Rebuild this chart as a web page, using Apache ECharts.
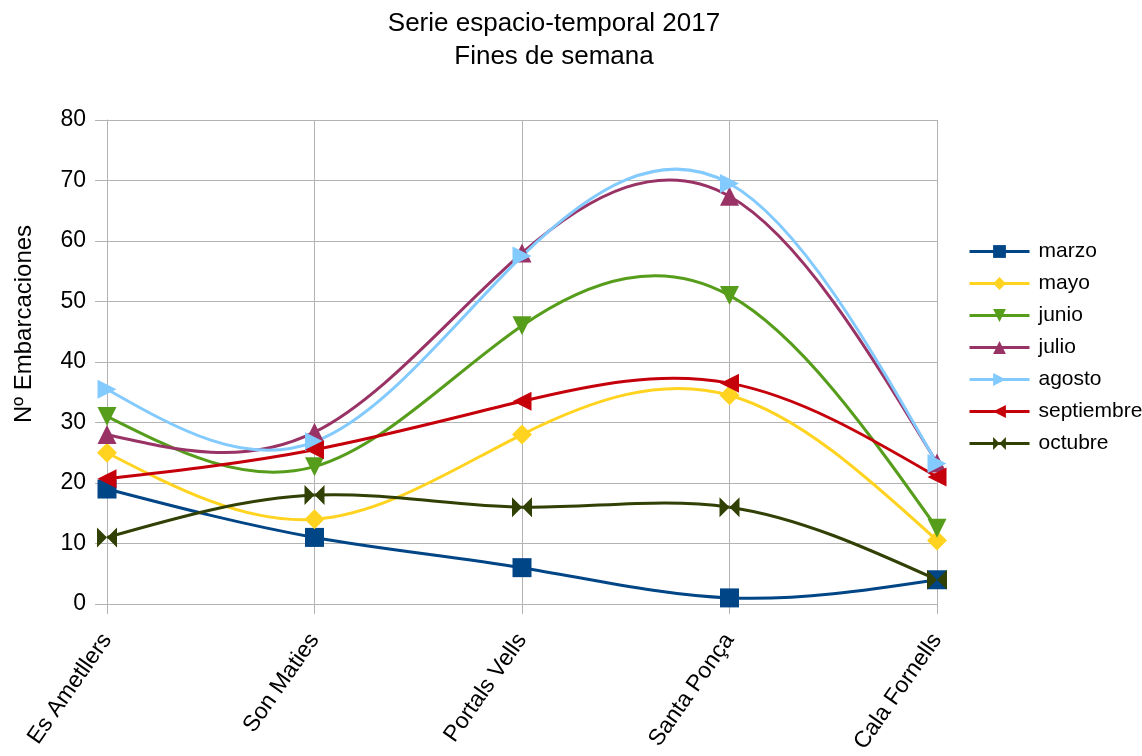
<!DOCTYPE html>
<html>
    <head>
        <meta charset="utf-8">
        <title>Serie espacio-temporal 2017</title>
        <script src="https://cdn.jsdelivr.net/npm/echarts@6/dist/echarts.min.js"></script>
        <style>
            html, body { margin: 0; padding: 0; background: #fff; }
            #chart1 { width: 1142px; height: 756px; }
        </style>
    </head>
    <body>
        <div id="chart1"></div>
        <script type="text/javascript">
            // datos
            var lugares = ['Es Ametllers', 'Son Maties', 'Portals Vells', 'Santa Ponça', 'Cala Fornells'];
            var marzo = [19, 11, 6, 1, 4];
            var mayo = [25, 14, 28, 34.5, 10.5];
            var junio = [31, 22.7, 46, 51, 12.5];
            var julio = [28, 28.4, 58, 67.4, 23.3];
            var agosto = [35.5, 26.8, 57.5, 69.5, 23.2];
            var septiembre = [20.7, 25.5, 33.5, 36.5, 21];
            var octubre = [11, 18, 16, 16, 4];
            var yTicks = [0, 10, 20, 30, 40, 50, 60, 70, 80];

            var bowtie = 'path://M0,0L10,10L0,20Z M20,0L10,10L20,20Z';

            // segundas derivadas de un spline cubico natural (paso 1)
            function splineM(y) {
                var n = y.length, M = new Array(n).fill(0);
                if (n < 3) return M;
                var a = [], b = [], c = [], d = [];
                for (var i = 1; i < n - 1; i++) {
                    a.push(1); b.push(4); c.push(1);
                    d.push(6 * (y[i - 1] - 2 * y[i] + y[i + 1]));
                }
                var m = d.length;
                for (var k = 1; k < m; k++) {
                    var w = a[k] / b[k - 1];
                    b[k] -= w * c[k - 1];
                    d[k] -= w * d[k - 1];
                }
                var x = new Array(m);
                x[m - 1] = d[m - 1] / b[m - 1];
                for (var k = m - 2; k >= 0; k--) x[k] = (d[k] - c[k] * x[k + 1]) / b[k];
                for (var k = 0; k < m; k++) M[k + 1] = x[k];
                return M;
            }

            function curva(nombre, datos, color) {
                var M = splineM(datos);
                return {
                    name: nombre + '-curva',
                    type: 'custom',
                    z: 1,
                    silent: true,
                    data: datos.map(function (v, i) { return [i, v]; }),
                    renderItem: function (params, api) {
                        var i = params.dataIndex;
                        if (i >= datos.length - 1) return null;
                        var y0 = datos[i], y1 = datos[i + 1];
                        var d0 = (y1 - y0) - (2 * M[i] + M[i + 1]) / 6;
                        var d1 = (y1 - y0) + (M[i] + 2 * M[i + 1]) / 6;
                        var p0 = api.coord([i, y0]);
                        var p1 = api.coord([i + 1, y1]);
                        var c0 = api.coord([i, y0 + d0 / 3]);
                        var c1 = api.coord([i + 1, y1 - d1 / 3]);
                        var dx = (p1[0] - p0[0]) / 3;
                        return {
                            type: 'bezierCurve',
                            shape: {
                                x1: p0[0], y1: p0[1],
                                x2: p1[0], y2: p1[1],
                                cpx1: p0[0] + dx, cpy1: c0[1],
                                cpx2: p1[0] - dx, cpy2: c1[1]
                            },
                            style: { stroke: color, lineWidth: 3, fill: null }
                        };
                    }
                };
            }

            function serie(nombre, datos, color, symbol, rot, size) {
                return {
                    name: nombre,
                    type: 'line',
                    z: 3,
                    data: datos,
                    symbol: symbol,
                    symbolRotate: rot,
                    symbolSize: size,
                    showAllSymbol: true,
                    itemStyle: { color: color },
                    lineStyle: { color: color, width: 3, opacity: 0 }
                };
            }

            var meses = [
                ['marzo', marzo, '#004586', 'rect', 0, 19],
                ['mayo', mayo, '#ffd320', 'diamond', 0, 20],
                ['junio', junio, '#579d1c', 'triangle', 180, 19],
                ['julio', julio, '#993366', 'triangle', 0, 19],
                ['agosto', agosto, '#83caff', 'triangle', -90, 19],
                ['septiembre', septiembre, '#c5000b', 'triangle', 90, 19],
                ['octubre', octubre, '#314004', bowtie, 0, 20]
            ];

            var series = [];
            meses.forEach(function (m) { series.push(curva(m[0], m[1], m[2])); });
            meses.forEach(function (m) { series.push(serie(m[0], m[1], m[2], m[3], m[4], m[5])); });

            var myChart = echarts.init(document.getElementById('chart1'));
            myChart.setOption({
                animation: false,
                textStyle: { fontFamily: 'Liberation Sans' },
                title: {
                    text: 'Serie espacio-temporal 2017\nFines de semana',
                    left: 549,
                    top: 2,
                    textAlign: 'center',
                    textStyle: {
                        fontFamily: 'Liberation Sans',
                        fontSize: 26,
                        fontWeight: 'normal',
                        color: '#000',
                        lineHeight: 33
                    }
                },
                legend: {
                    orient: 'vertical',
                    left: 963,
                    top: 236,
                    itemWidth: 60,
                    itemHeight: 16,
                    itemGap: 11,
                    lineStyle: { opacity: 1, width: 3 },
                    textStyle: { fontSize: 21, color: '#000', fontFamily: 'Liberation Sans', padding: [0, 0, 0, 4] },
                    data: meses.map(function (m) { return m[0]; })
                },
                grid: { left: 107, right: 205, top: 120, bottom: 149, containLabel: false },
                xAxis: {
                    type: 'category',
                    data: lugares,
                    boundaryGap: false,
                    axisLine: { show: true, lineStyle: { color: '#b3b3b3' } },
                    axisTick: { show: true, length: 10, alignWithLabel: true, lineStyle: { color: '#b3b3b3' } },
                    splitLine: { show: true, lineStyle: { color: '#b3b3b3' } },
                    axisLabel: { rotate: 55, fontSize: 23, color: '#000', margin: 32, interval: 0 }
                },
                yAxis: {
                    type: 'value',
                    min: yTicks[0],
                    max: yTicks[yTicks.length - 1],
                    interval: 10,
                    name: 'Nº Embarcaciones',
                    nameLocation: 'middle',
                    nameGap: 71,
                    nameTextStyle: { fontSize: 24, color: '#000', padding: [0, 0, 0, 76] },
                    axisLine: { show: true, lineStyle: { color: '#b3b3b3' } },
                    axisTick: { show: true, length: 12, lineStyle: { color: '#b3b3b3' } },
                    splitLine: { lineStyle: { color: '#b3b3b3' } },
                    axisLabel: { fontSize: 23, color: '#000', margin: 21 }
                },
                series: series
            });
        </script>
    </body>
</html>
